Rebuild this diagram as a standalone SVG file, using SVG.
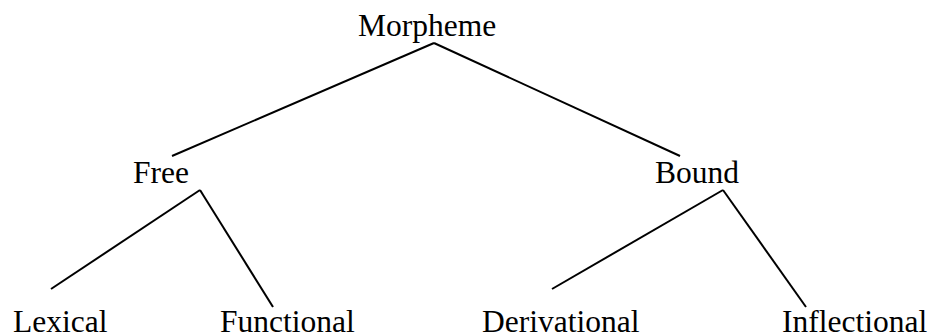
<svg xmlns="http://www.w3.org/2000/svg" width="931" height="334" viewBox="0 0 931 334">
<style>
text{font-family:"Liberation Serif","Times New Roman",serif;font-size:31.5px;fill:#000}
.c line{stroke:#000;stroke-width:2;stroke-linecap:butt}
</style>
<rect width="931" height="334" fill="#fff"/>
<g class="c" id="connectors">
<line x1="434" y1="43" x2="172" y2="156"/>
<line x1="434" y1="43" x2="680" y2="156"/>
<line x1="200" y1="190" x2="51" y2="289"/>
<line x1="200" y1="190" x2="273" y2="307"/>
<line x1="723" y1="190" x2="552" y2="289"/>
<line x1="723" y1="190" x2="806" y2="307"/>
</g>
<g id="morpheme"><text x="358" y="36">Morpheme</text></g>
<g id="free"><text x="133" y="183">Free</text></g>
<g id="bound"><text x="655" y="183">Bound</text></g>
<g id="lexical"><text x="13" y="332">Lexical</text></g>
<g id="functional"><text x="220" y="332">Functional</text></g>
<g id="derivational"><text x="482" y="332">Derivational</text></g>
<g id="inflectional"><text x="782" y="332">Inflectional</text></g>
</svg>
